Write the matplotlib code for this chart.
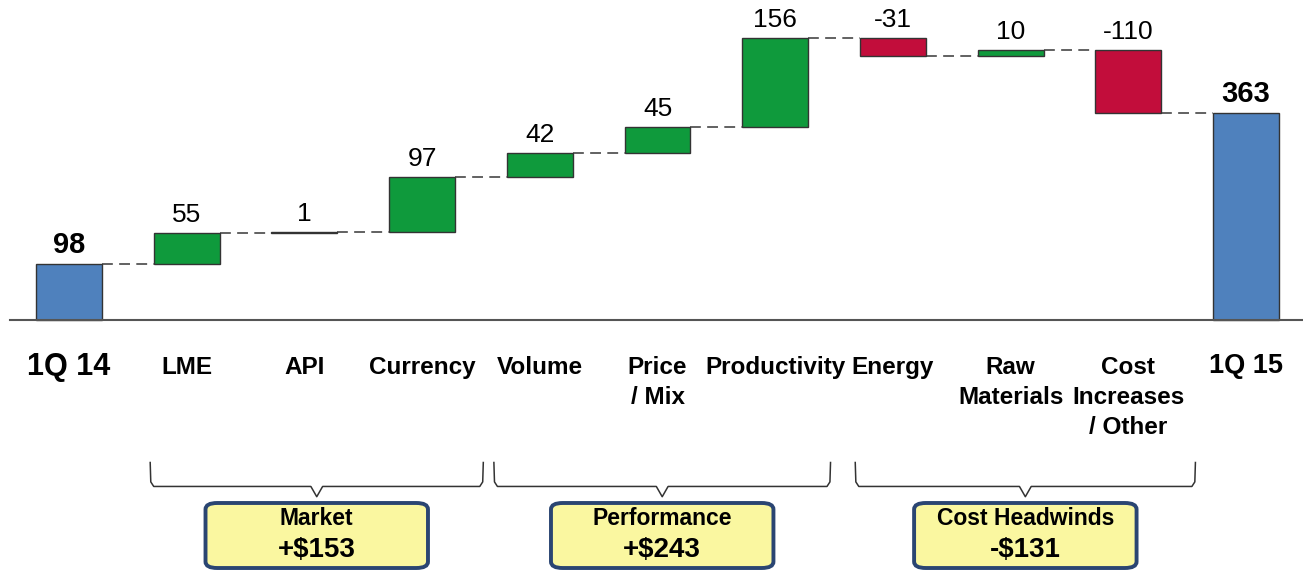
import matplotlib.pyplot as plt
from matplotlib.patches import FancyBboxPatch
import numpy as np

plt.rcParams['font.family'] = ['Liberation Sans', 'DejaVu Sans']

# data
categories = ['1Q 14', 'LME', 'API', 'Currency', 'Volume', 'Price\n/ Mix',
              'Productivity', 'Energy', 'Raw\nMaterials', 'Cost\nIncreases\n/ Other', '1Q 15']
changes = [98, 55, 1, 97, 42, 45, 156, -31, 10, -110, 363]
is_total = [True, False, False, False, False, False, False, False, False, False, True]
group_names = ['Market', 'Performance', 'Cost Headwinds']
group_values = ['+$153', '+$243', '-$131']
brace_ranges = [(0.69, 3.52), (3.61, 6.47), (6.68, 9.57)]

BLUE = '#4F81BD'
GREEN = '#0F9A3C'
RED = '#C20D3B'

fig = plt.figure(figsize=(13.03, 5.72), dpi=100)
ax = fig.add_axes([0, 0, 1, 1])
ax.set_xlim(-0.586, 10.484)
ax.set_ylim(-442, 561)
ax.axis('off')

x = np.arange(len(categories))
bottoms = []
heights = []
colors = []
level = 0
for i, c in enumerate(changes):
    if is_total[i]:
        bottoms.append(0)
        heights.append(c)
        colors.append(BLUE)
        level = c
    else:
        bottoms.append(level if c >= 0 else level + c)
        heights.append(abs(c))
        colors.append(GREEN if c >= 0 else RED)
        level += c

bar_w = 0.56
ax.bar(x, heights, bottom=bottoms, width=bar_w, color=colors,
       edgecolor='#333333', linewidth=1.0, zorder=3)

# baseline
ax.axhline(0, color='#555555', lw=1.5, xmin=0.008, zorder=4)

# connectors
level = 0
for i, c in enumerate(changes[:-1]):
    level = c if is_total[i] else level + c
    ax.plot([x[i] + bar_w / 2, x[i + 1] - bar_w / 2], [level, level],
            color='#555555', lw=1.3, ls=(0, (6, 3.5)), zorder=2)

# value labels
for i, c in enumerate(changes):
    top = bottoms[i] + heights[i]
    if is_total[i]:
        ax.text(x[i], top + 19, str(c), ha='center', va='baseline',
                fontsize=21, fontweight='bold')
    else:
        ax.text(x[i], top + 19, str(c), ha='center', va='baseline',
                fontsize=19)

# category labels
for i, lab in enumerate(categories):
    if is_total[i]:
        fs = 22 if i == 0 else 19.5
        ax.text(x[i], -82 if i == 0 else -81, lab, ha='center', va='center',
                fontsize=fs, fontweight='bold')
    else:
        ax.text(x[i], -63, lab, ha='center', va='top', fontsize=17.5,
                fontweight='bold', linespacing=1.38)

# braces and group boxes
for (x0, x1), name, val in zip(brace_ranges, group_names, group_values):
    xc = (x0 + x1) / 2
    ytop, yh, ytip = -250, -292, -310
    bx = [x0, x0 + 0.005, x0 + 0.03, xc - 0.05, xc, xc + 0.05, x1 - 0.03, x1 - 0.005, x1]
    by = [ytop, yh + 8, yh, yh, ytip, yh, yh, yh + 8, ytop]
    ax.plot(bx, by, color='#333333', lw=1.1)
    bw, bh = 1.89, 114
    box = FancyBboxPatch((xc - bw / 2, -435), bw, bh,
                         boxstyle='round,pad=0,rounding_size=0.1',
                         mutation_aspect=110,
                         facecolor='#FAF7A0', edgecolor='#2A4572', lw=2.8, zorder=5)
    ax.add_patch(box)
    ax.text(xc, -349, name, ha='center', va='center', fontsize=16.5,
            fontweight='bold', zorder=6)
    ax.text(xc, -403, val, ha='center', va='center', fontsize=20,
            fontweight='bold', zorder=6)

fig.savefig('out.png', dpi=100)
